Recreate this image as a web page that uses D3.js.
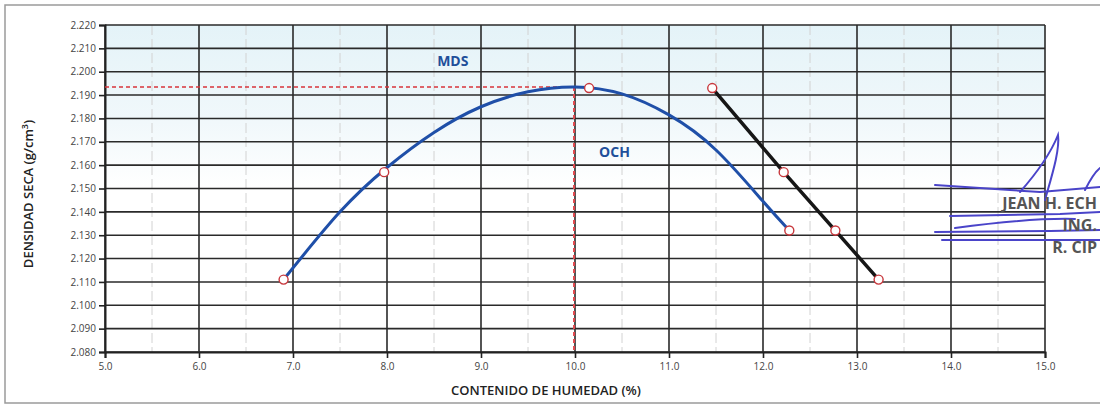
<!DOCTYPE html>
<html>
<head>
<meta charset="utf-8">
<script src="https://cdn.jsdelivr.net/npm/d3@7"></script>
<style>
  body { margin: 0; background: #fff; }
  text { font-family: "Open Sans", "Noto Sans", sans-serif; }
</style>
</head>
<body>
<div id="chart"></div>
<script>
// datos de la curva de compactacion (proctor)
const humedad = [6.9, 7.97, 10.15, 12.28];
const densidad = [2.111, 2.157, 2.193, 2.132];

// curva ajustada
const ajusteX = [6.9, 7.5, 8.0, 8.5, 9.0, 9.5, 10.0, 10.5, 11.0, 11.5, 12.0, 12.28];
const ajusteY = [2.111, 2.140, 2.159, 2.174, 2.185, 2.1914, 2.1935, 2.1905, 2.1815, 2.1665, 2.1445, 2.132];

// linea de saturacion
const satX = [11.46, 12.22, 12.77, 13.23];
const satY = [2.193, 2.157, 2.132, 2.111];

// MDS y OCH
const mds = 2.1935;
const och = 9.99;

const xTicks = [5, 6, 7, 8, 9, 10, 11, 12, 13, 14, 15];
const xMinor = [5.5, 6.5, 7.5, 8.5, 9.5, 10.5, 11.5, 12.5, 13.5, 14.5];
const yTicks = [2.08, 2.09, 2.10, 2.11, 2.12, 2.13, 2.14, 2.15, 2.16, 2.17, 2.18, 2.19, 2.20, 2.21, 2.22];

const W = 1100, H = 405;
const m = { left: 105, right: 55, top: 25, bottom: 53 };

const svg = d3.select("#chart").append("svg")
    .attr("width", W).attr("height", H);

// marco del escaneo
svg.append("rect")
    .attr("x", 5).attr("y", 5).attr("width", W + 10).attr("height", 398)
    .attr("fill", "none").attr("stroke", "#9a9a9a").attr("stroke-width", 1.5);

const x = d3.scaleLinear().domain([5, 15]).range([m.left, W - m.right]);
const y = d3.scaleLinear().domain([2.08, 2.22]).range([H - m.bottom, m.top]);

// fondo celeste arriba
const grad = svg.append("defs").append("linearGradient")
    .attr("id", "bg").attr("x1", 0).attr("y1", 0).attr("x2", 0).attr("y2", 1);
grad.append("stop").attr("offset", "0%").attr("stop-color", "#e4f3f8");
grad.append("stop").attr("offset", "30%").attr("stop-color", "#f1f8fb");
grad.append("stop").attr("offset", "50%").attr("stop-color", "#ffffff");

svg.append("rect")
    .attr("x", x(5)).attr("y", y(2.22))
    .attr("width", x(15) - x(5)).attr("height", y(2.08) - y(2.22))
    .attr("fill", "url(#bg)");

// grilla menor vertical
svg.append("g").selectAll("line")
    .data(xMinor)
    .join("line")
    .attr("x1", d => x(d)).attr("x2", d => x(d))
    .attr("y1", y(2.22)).attr("y2", y(2.08))
    .attr("stroke", "#d2d2d2").attr("stroke-width", 1)
    .attr("stroke-dasharray", "10,4");

// grilla principal
svg.append("g").selectAll("line")
    .data(yTicks)
    .join("line")
    .attr("x1", x(5)).attr("x2", x(15))
    .attr("y1", d => y(d)).attr("y2", d => y(d))
    .attr("stroke", "#2a2a2a").attr("stroke-width", 1.6);

svg.append("g").selectAll("line")
    .data(xTicks)
    .join("line")
    .attr("x1", d => x(d)).attr("x2", d => x(d))
    .attr("y1", y(2.22)).attr("y2", y(2.08))
    .attr("stroke", "#2a2a2a").attr("stroke-width", 1.6);

// ejes
const xAxis = svg.append("g")
    .attr("transform", `translate(0,${y(2.08)})`)
    .call(d3.axisBottom(x).tickValues(xTicks).tickFormat(d3.format(".1f")).tickSize(6).tickPadding(5));
const yAxis = svg.append("g")
    .attr("transform", `translate(${x(5)},0)`)
    .call(d3.axisLeft(y).tickValues(yTicks).tickFormat(d3.format(".3f")).tickSize(6).tickPadding(3));

[xAxis, yAxis].forEach(g => {
    g.select(".domain").attr("stroke", "#222").attr("stroke-width", 2);
    g.selectAll(".tick line").attr("stroke", "#222").attr("stroke-width", 1.6);
    g.selectAll(".tick text")
        .attr("fill", "#444")
        .style("font-size", "10px")
        .style("font-family", "'Open Sans', sans-serif");
});

// lineas MDS / OCH
svg.append("line")
    .attr("x1", x(5)).attr("x2", x(och))
    .attr("y1", y(mds)).attr("y2", y(mds))
    .attr("stroke", "#d8353b").attr("stroke-width", 1.5)
    .attr("stroke-dasharray", "4,3");
svg.append("line")
    .attr("x1", x(och)).attr("x2", x(och))
    .attr("y1", y(mds)).attr("y2", y(2.08))
    .attr("stroke", "#e0454b").attr("stroke-width", 2)
    .attr("stroke-dasharray", "4,3");

// curva ajustada
const curva = d3.line()
    .x((d, i) => x(ajusteX[i]))
    .y(d => y(d))
    .curve(d3.curveNatural);

svg.append("path")
    .attr("d", curva(ajusteY))
    .attr("fill", "none")
    .attr("stroke", "#1f4fa8")
    .attr("stroke-width", 3);

// linea de saturacion
const recta = d3.line()
    .x((d, i) => x(satX[i]))
    .y(d => y(d));

svg.append("path")
    .attr("d", recta(satY))
    .attr("fill", "none")
    .attr("stroke", "#161616")
    .attr("stroke-width", 3.5);

// puntos
const puntos = humedad.map((h, i) => [h, densidad[i]])
    .concat(satX.map((h, i) => [h, satY[i]]));

svg.append("g").selectAll("circle")
    .data(puntos)
    .join("circle")
    .attr("cx", d => x(d[0]))
    .attr("cy", d => y(d[1]))
    .attr("r", 4.5)
    .attr("fill", "#fff")
    .attr("stroke", "#c8383d")
    .attr("stroke-width", 1.4);

// etiquetas
svg.append("text")
    .attr("x", x(8.7)).attr("y", y(2.2025))
    .attr("text-anchor", "middle")
    .attr("fill", "#1f4f9a")
    .style("font-size", "14px").style("font-weight", "bold")
    .text("MDS");

svg.append("text")
    .attr("x", x(10.42)).attr("y", y(2.1635))
    .attr("text-anchor", "middle")
    .attr("fill", "#1f4f9a")
    .style("font-size", "14px").style("font-weight", "bold")
    .text("OCH");

svg.append("text")
    .attr("x", 546).attr("y", 395)
    .attr("text-anchor", "middle")
    .attr("fill", "#222")
    .style("font-size", "13px").style("font-weight", "600")
    .text("CONTENIDO DE HUMEDAD (%)");

const yl = svg.append("text")
    .attr("transform", "translate(33,194) rotate(-90)")
    .attr("text-anchor", "middle")
    .attr("fill", "#222")
    .style("font-size", "13px").style("font-weight", "600");
yl.append("tspan").text("DENSIDAD SECA (g/cm");
yl.append("tspan").attr("dy", -5).style("font-size", "9px").text("3");
yl.append("tspan").attr("dy", 5).text(")");

// firma
const firma = svg.append("g").attr("fill", "none").attr("stroke", "#4a44c9")
    .attr("stroke-width", 2).attr("stroke-linecap", "round");
firma.append("path").attr("d", "M935,185 L1010,190 L1040,192 L1100,187");
firma.append("path").attr("d", "M1020,192 C1035,175 1050,155 1058,135 C1060,150 1052,175 1045,200");
firma.append("path").attr("d", "M1085,190 C1090,180 1095,172 1100,168");
firma.append("path").attr("d", "M950,216 L1060,214 L1100,212");
firma.append("path").attr("d", "M955,228 C1000,222 1040,218 1075,219");
firma.append("path").attr("d", "M935,232 L1050,231 L1100,230");
firma.append("path").attr("d", "M942,240 L1100,240");

svg.append("g")
    .attr("fill", "#555")
    .attr("text-anchor", "end")
    .style("font-family", "'Liberation Sans Narrow', 'DejaVu Sans Condensed', sans-serif")
    .style("font-weight", "bold")
    .style("font-size", "16px")
    .selectAll("text")
    .data([["JEAN H. ECH", 1097, 209], ["ING.", 1097, 231], ["R. CIP", 1097, 253]])
    .join("text")
    .attr("x", d => d[1]).attr("y", d => d[2])
    .text(d => d[0]);
</script>
</body>
</html>
